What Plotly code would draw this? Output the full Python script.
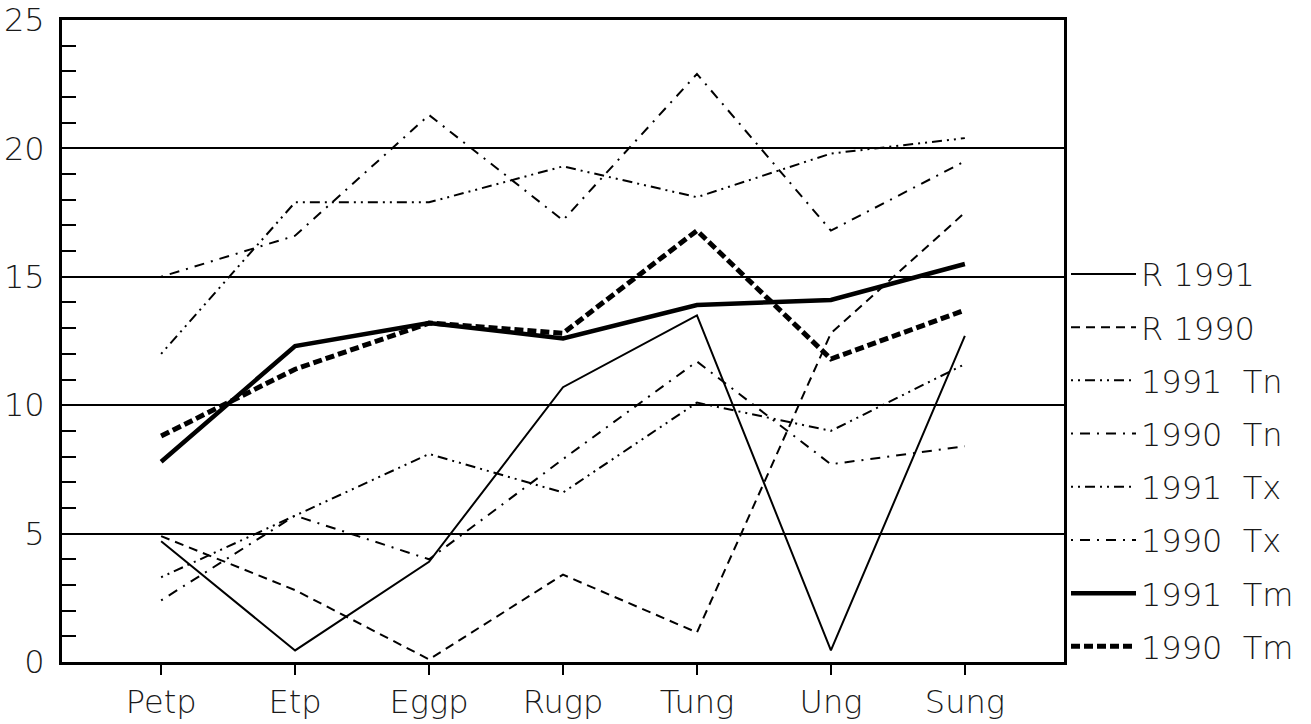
import plotly.graph_objects as go

categories = ["Petp", "Etp", "Eggp", "Rugp", "Tung", "Ung", "Sung"]

r_1991 = [4.7, 0.45, 3.9, 10.7, 13.5, 0.45, 12.7]
r_1990 = [4.9, 2.8, 0.1, 3.4, 1.15, 12.8, 17.5]
tn_1991 = [3.3, 5.7, 8.1, 6.6, 10.1, 9.0, 11.6]
tn_1990 = [2.4, 5.7, 4.0, 7.9, 11.7, 7.7, 8.4]
tx_1991 = [12.0, 17.9, 17.9, 19.3, 18.1, 19.8, 20.4]
tx_1990 = [15.0, 16.6, 21.3, 17.2, 22.9, 16.8, 19.5]
tm_1991 = [7.8, 12.3, 13.2, 12.6, 13.9, 14.1, 15.5]
tm_1990 = [8.8, 11.4, 13.2, 12.8, 16.8, 11.8, 13.7]

series_names = ["R 1991", "R 1990", "1991  Tn", "1990  Tn", "1991  Tx", "1990  Tx", "1991  Tm", "1990  Tm"]
y_ticks = [0, 5, 10, 15, 20, 25]

series = [
    (series_names[0], r_1991, dict(width=2, dash="solid")),
    (series_names[1], r_1990, dict(width=2, dash="9px,6px")),
    (series_names[2], tn_1991, dict(width=2, dash="2px,5px,2px,5px,10px,5px")),
    (series_names[3], tn_1990, dict(width=2, dash="2px,7px,10px,7px")),
    (series_names[4], tx_1991, dict(width=2, dash="2px,5px,2px,5px,10px,5px")),
    (series_names[5], tx_1990, dict(width=2, dash="2px,7px,10px,7px")),
    (series_names[6], tm_1991, dict(width=4.5, dash="solid")),
    (series_names[7], tm_1990, dict(width=5, dash="9px,4px")),
]

fig = go.Figure()
for i, (name, vals, ln) in enumerate(series):
    fig.add_trace(go.Scatter(
        x=categories, y=vals, mode="lines", name=name,
        line=dict(color="black", **ln),
        legendgroup=f"g{i}",
    ))

font_family = "DejaVu Sans"
txt_font = dict(family=font_family, size=32, color="#1a1a1a", weight=300)

fig.update_layout(
    template="none",
    width=1311, height=724,
    margin=dict(l=62, r=247, t=20, b=62, autoexpand=False),
    paper_bgcolor="white", plot_bgcolor="white",
    font=txt_font,
    showlegend=True,
    legend=dict(
        x=1.002, xanchor="left", y=0.647, yanchor="top",
        bgcolor="rgba(0,0,0,0)", borderwidth=0,
        font=txt_font,
        tracegroupgap=8.6, itemwidth=65,
    ),
    xaxis=dict(
        type="category", categoryorder="array", categoryarray=categories,
        range=[-0.74, 6.74], automargin=False,
        showline=True, linecolor="black", linewidth=3, mirror=True,
        ticks="outside", ticklen=10, tickwidth=2, tickcolor="black",
        showgrid=False, zeroline=False,
        tickfont=txt_font,
    ),
    yaxis=dict(
        range=[0, 25], tickvals=y_ticks, automargin=False,
        showline=True, linecolor="black", linewidth=3, mirror=True,
        ticks="inside", ticklen=14, tickwidth=2, tickcolor="black",
        showgrid=True, gridcolor="black", gridwidth=2,
        zeroline=False,
        minor=dict(dtick=1, ticks="inside", ticklen=14, tickwidth=2, tickcolor="black", showgrid=False),
        tickfont=txt_font,
        ticklabelstandoff=8,
    ),
)

fig.write_html("out.html")
